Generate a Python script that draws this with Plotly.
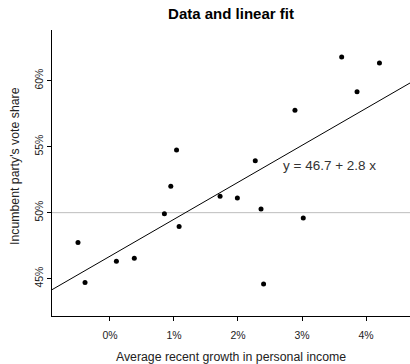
import plotly.graph_objects as go

growth = [2.40, 2.89, 0.85, 4.21, 3.02, 3.62, 1.08, -0.39, 3.86, 2.27,
          0.38, 1.04, 2.36, 1.72, 0.10, 0.95, 1.99, -0.50]
vote = [44.60, 57.76, 49.91, 61.34, 49.60, 61.79, 48.95, 44.70, 59.17, 53.94,
        46.55, 54.74, 50.27, 51.24, 46.32, 52.00, 51.11, 47.73]
fit_coef = [46.7, 2.8]  # intercept, slope
x_ticks = [0, 1, 2, 3, 4]
x_tick_text = ["0%", "1%", "2%", "3%", "4%"]
y_ticks = [45, 50, 55, 60]
y_tick_text = ["45%", "50%", "55%", "60%"]

xr = [-0.906, 4.6875]
yr = [42.17, 63.84]
FONT = "Liberation Sans, Arial, sans-serif"

fig = go.Figure()
fig.add_trace(go.Scatter(x=xr, y=[50, 50], mode="lines",
                         line=dict(color="#bdbdbd", width=1), hoverinfo="skip"))
fig.add_trace(go.Scatter(x=xr, y=[fit_coef[0] + fit_coef[1] * v for v in xr],
                         mode="lines", line=dict(color="black", width=1)))
fig.add_trace(go.Scatter(x=growth, y=vote, mode="markers",
                         marker=dict(color="black", size=5)))

fig.add_annotation(x=3.43, y=53.56, text="y = 46.7 + 2.8 x", showarrow=False,
                   font=dict(size=13.5, color="#333333", family=FONT))
fig.add_annotation(x=(15 - 52) / 358, y=(316 - 166) / 286, xref="paper", yref="paper",
                   text="Incumbent party's vote share", textangle=-90, showarrow=False,
                   xanchor="center", yanchor="middle",
                   font=dict(size=12.3, color="#222222", family=FONT))

fig.update_layout(
    width=410, height=364, showlegend=False,
    margin=dict(l=52, r=0, t=30, b=48),
    plot_bgcolor="white", paper_bgcolor="white",
    font=dict(family=FONT, size=10.5, color="#222222"),
    title=dict(text="<b>Data and linear fit</b>", x=231 / 410, xanchor="center",
               y=1 - 14 / 364, yanchor="middle", font=dict(size=15, color="black")),
    xaxis=dict(range=xr, tickvals=x_ticks, ticktext=x_tick_text, showgrid=False,
               zeroline=False, showline=True, linecolor="black", linewidth=1,
               ticks="outside", ticklen=4, tickcolor="black", ticklabelstandoff=5,
               title=dict(text="Average recent growth in personal income", standoff=14,
                          font=dict(size=12.3))),
    yaxis=dict(range=yr, tickvals=y_ticks, ticktext=y_tick_text, showgrid=False,
               zeroline=False, showline=True, linecolor="black", linewidth=1,
               ticks="outside", ticklen=4, tickcolor="black", tickangle=-90),
)
fig.write_html("out.html")
